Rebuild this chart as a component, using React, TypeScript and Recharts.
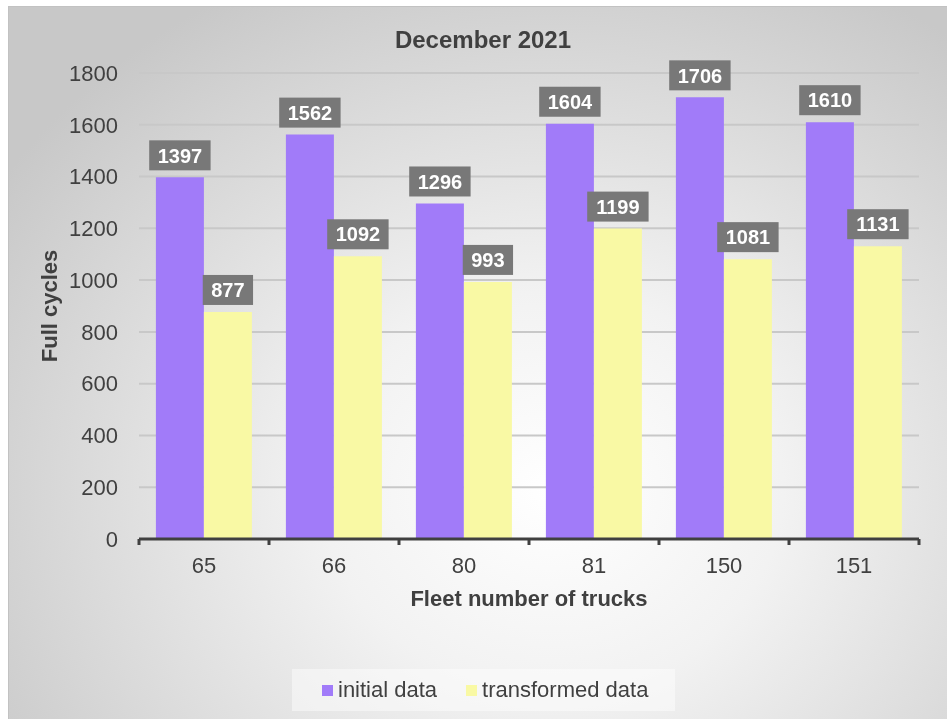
import React from 'react';
import { BarChart, Bar, XAxis, YAxis, CartesianGrid, LabelList } from 'recharts';

const trucks = ['65', '66', '80', '81', '150', '151'];
const initialData = [1397, 1562, 1296, 1604, 1706, 1610];
const transformedData = [877, 1092, 993, 1199, 1081, 1131];
const yTicks = [0, 200, 400, 600, 800, 1000, 1200, 1400, 1600, 1800];

const series = [
  { key: 'initial', name: 'initial data', color: '#a17bf9' },
  { key: 'transformed', name: 'transformed data', color: '#f9f9a4' },
];

const chartData = trucks.map((truck, i) => ({
  truck,
  initial: initialData[i],
  transformed: transformedData[i],
}));

const W = 939;
const H = 713;
const Y_AXIS_W = 131;
const X_AXIS_H = 122;
const margin = { top: 67, right: 28, left: 0, bottom: 58 };
const FONT = '"Liberation Sans", Arial, sans-serif';
const TEXT = '#404040';
const TICK_GAP = 18;
// half of one category band, used to put the tick marks between trucks
const halfBand = (W - margin.left - margin.right - Y_AXIS_W) / trucks.length / 2;

function TruckTick(props: any) {
  const { x, y, payload, index } = props;
  const axisY = y - TICK_GAP;
  return (
    <g>
      <line x1={x - halfBand} x2={x - halfBand} y1={axisY} y2={axisY + 6} stroke={TEXT} strokeWidth={3} />
      {index === trucks.length - 1 && (
        <line x1={x + halfBand} x2={x + halfBand} y1={axisY} y2={axisY + 6} stroke={TEXT} strokeWidth={3} />
      )}
      <text x={x} y={y} dy="0.71em" textAnchor="middle" fill={TEXT} fontSize={22} fontFamily={FONT}>
        {payload.value}
      </text>
    </g>
  );
}

// grey tag with the value sitting just above each bar
function ValueTag(props: any) {
  const { x, y, width, value } = props;
  const w = String(value).length * 11.1 + 17;
  const h = 30;
  const cx = x + width / 2;
  const top = y - 7 - h;
  return (
    <g>
      <rect x={cx - w / 2} y={top} width={w} height={h} fill="#787878" />
      <text
        x={cx}
        y={top + h / 2}
        dy="0.36em"
        textAnchor="middle"
        fill="#ffffff"
        fontWeight="bold"
        fontSize={20}
        fontFamily={FONT}
      >
        {value}
      </text>
    </g>
  );
}

export default function App() {
  return (
    <div
      style={{
        position: 'fixed',
        left: 8,
        top: 6,
        width: W,
        height: H,
        boxShadow: 'inset 1px 1px 0 #c2c2c2',
        background:
          'radial-gradient(ellipse 70% 80% at 58% 68%, #ffffff 0%, #f2f2f2 35%, #c8c8c8 100%)',
        fontFamily: FONT,
      }}
    >
      <div
        style={{
          position: 'absolute',
          left: 0,
          width: 950,
          top: 22,
          textAlign: 'center',
          fontSize: 24,
          lineHeight: '24px',
          fontWeight: 'bold',
          color: TEXT,
        }}
      >
        December 2021
      </div>

      <BarChart width={W} height={H} data={chartData} margin={margin} barCategoryGap="13%" barGap={0}>
        <CartesianGrid vertical={false} stroke="#c8c8c8" strokeWidth={2} />
        <XAxis
          dataKey="truck"
          height={X_AXIS_H}
          axisLine={{ stroke: TEXT, strokeWidth: 3 }}
          tickLine={false}
          tickSize={0}
          tickMargin={TICK_GAP}
          tick={<TruckTick />}
          interval={0}
          label={{
            content: ({ viewBox }: any) => (
              <text
                x={viewBox.x + viewBox.width / 2}
                y={592}
                dy="0.36em"
                textAnchor="middle"
                fill={TEXT}
                fontWeight="bold"
                fontSize={22}
                fontFamily={FONT}
              >
                Fleet number of trucks
              </text>
            ),
          }}
        />
        <YAxis
          width={Y_AXIS_W}
          domain={[0, 1800]}
          ticks={yTicks}
          axisLine={false}
          tickLine={false}
          tickSize={0}
          tickMargin={21}
          tick={{ fill: TEXT, fontSize: 22, fontFamily: FONT }}
          label={{
            content: ({ viewBox }: any) => {
              const lx = 41;
              const ly = viewBox.y + viewBox.height / 2;
              return (
                <text
                  x={lx}
                  y={ly}
                  dy="0.36em"
                  textAnchor="middle"
                  transform={`rotate(-90, ${lx}, ${ly})`}
                  fill={TEXT}
                  fontWeight="bold"
                  fontSize={22}
                  fontFamily={FONT}
                >
                  Full cycles
                </text>
              );
            },
          }}
        />
        {series.map((s) => (
          <Bar key={s.key} dataKey={s.key} name={s.name} fill={s.color} isAnimationActive={false}>
            <LabelList dataKey={s.key} content={<ValueTag />} />
          </Bar>
        ))}
      </BarChart>

      <div
        style={{
          position: 'absolute',
          left: 284,
          top: 663,
          width: 383,
          height: 42,
          boxSizing: 'border-box',
          paddingLeft: 30,
          display: 'flex',
          alignItems: 'center',
          background: 'rgba(255,255,255,0.45)',
        }}
      >
        {series.map((s, i) => (
          <div key={s.key} style={{ display: 'flex', alignItems: 'center', marginLeft: i === 0 ? 0 : 29 }}>
            <span style={{ width: 11, height: 11, background: s.color, marginRight: 5 }} />
            <span style={{ fontSize: 22, color: TEXT }}>{s.name}</span>
          </div>
        ))}
      </div>
    </div>
  );
}
